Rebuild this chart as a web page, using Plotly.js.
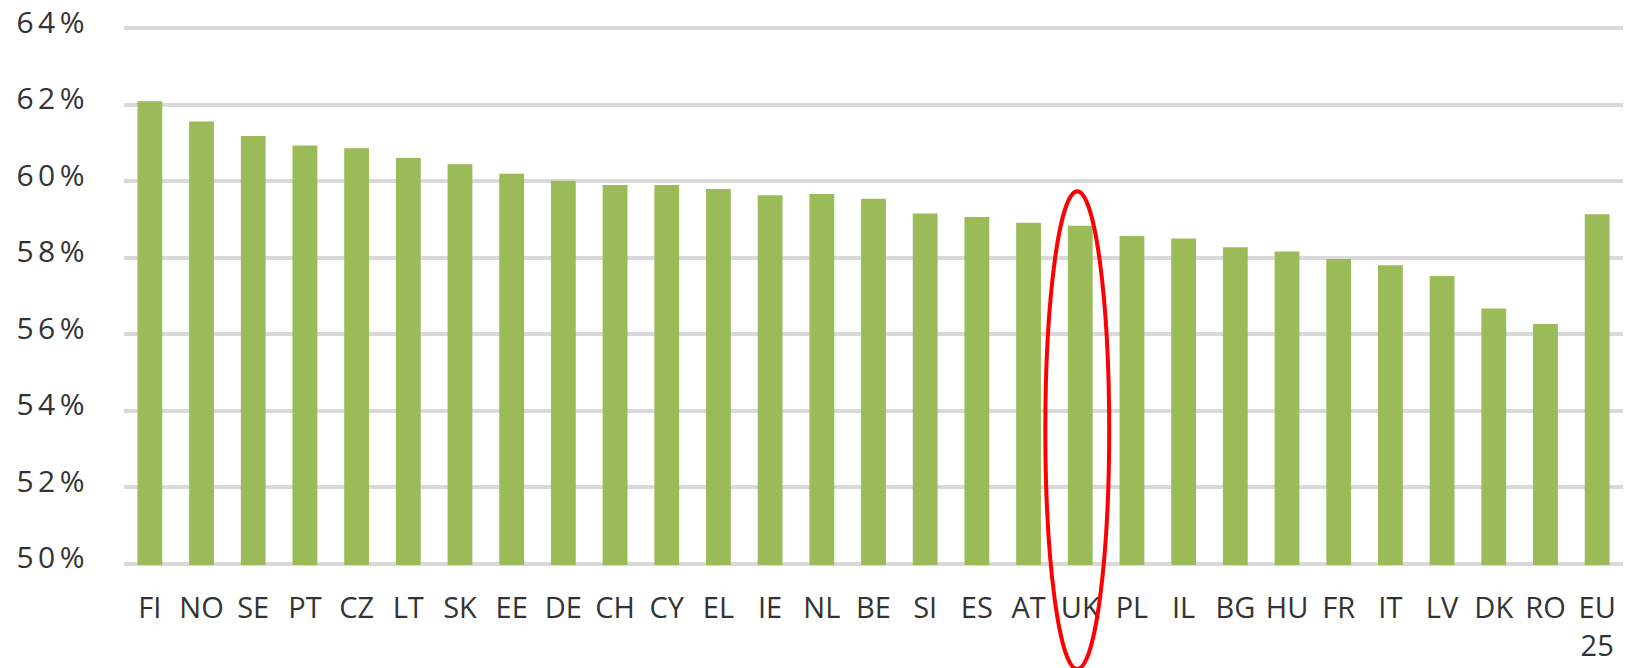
<!DOCTYPE html>
<html>
<head>
<meta charset="utf-8">
<script src="https://cdn.plot.ly/plotly-3.0.1.min.js"></script>
<style>
  html, body { margin: 0; padding: 0; background: #fff; }
  #plot { width: 1625px; height: 668px; }
  .ytick text { letter-spacing: 4.5px; }
</style>
</head>
<body>
<div id="plot"></div>
<script>
// Country codes (x axis)
let countries = ["FI", "NO", "SE", "PT", "CZ", "LT", "SK", "EE", "DE", "CH",
                 "CY", "EL", "IE", "NL", "BE", "SI", "ES", "AT", "UK", "PL",
                 "IL", "BG", "HU", "FR", "IT", "LV", "DK", "RO", "EU<br>25"];

// Share in %
let shares = [62.10, 61.57, 61.19, 60.94, 60.87, 60.61, 60.45, 60.20, 60.02, 59.91,
              59.91, 59.80, 59.64, 59.67, 59.55, 59.16, 59.07, 58.92, 58.84, 58.57,
              58.51, 58.28, 58.17, 57.97, 57.81, 57.53, 56.68, 56.27, 59.14];

// y ticks
let tickVals = [50, 52, 54, 56, 58, 60, 62, 64];
let tickText = ["50%", "52%", "54%", "56%", "58%", "60%", "62%", "64%"];

// Country to highlight with the red ring
let highlight = "UK";

let trace = {
    x: countries,
    y: shares,
    type: "bar",
    marker: { color: "#9bbb59" },
    hoverinfo: "x+y"
};

// ring around the highlighted bar, placed from its category index
let idx = countries.indexOf(highlight);
let n = countries.length;
let cx = (idx + 0.5) / n - 0.002;

let layout = {
    width: 1625,
    height: 668,
    margin: { l: 124, r: 2, t: 17, b: 103 },
    paper_bgcolor: "#ffffff",
    plot_bgcolor: "#ffffff",
    showlegend: false,
    bargap: 0.52,
    font: { family: "Open Sans, sans-serif", color: "#333333" },
    xaxis: {
        type: "category",
        showgrid: false,
        zeroline: false,
        showline: false,
        ticks: "",
        ticklabelstandoff: 23,
        tickfont: { size: 29, color: "#333333" }
    },
    yaxis: {
        range: [49.97, 64.3],
        tickvals: tickVals,
        ticktext: tickText,
        showgrid: true,
        gridcolor: "#d9d9d9",
        gridwidth: 4,
        zeroline: false,
        showline: false,
        ticks: "",
        ticklabelstandoff: 34,
        ticklabelshift: -6,
        ticklabeloverflow: "allow",
        tickfont: { size: 30, color: "#333333" }
    },
    shapes: [{
        type: "circle",
        xref: "paper",
        yref: "paper",
        x0: cx - 0.0213,
        x1: cx + 0.0213,
        y0: -0.19,
        y1: 0.682,
        line: { color: "#ff0000", width: 4 }
    }]
};

Plotly.newPlot("plot", [trace], layout, { displayModeBar: false, staticPlot: true });
</script>
</body>
</html>
